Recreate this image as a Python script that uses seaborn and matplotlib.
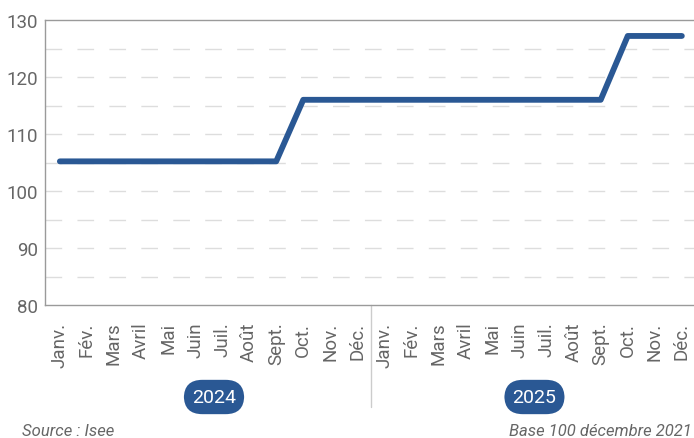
import matplotlib
matplotlib.use("Agg")
import matplotlib.pyplot as plt
import seaborn as sns
import pandas as pd
import numpy as np

months = ["Janv.", "Fév.", "Mars", "Avril", "Mai", "Juin", "Juil.", "Août",
          "Sept.", "Oct.", "Nov.", "Déc."]
years = ["2024", "2025"]
values = [105.2] * 9 + [116.0] * 12 + [127.2] * 3
tick_labels = months * 2

sns.set_theme(style="white")
plt.rcParams['font.family'] = ['Roboto', 'DejaVu Sans']

df = pd.DataFrame({"x": np.arange(len(values)), "value": values})

fig = plt.figure(figsize=(6.94, 4.39), dpi=100)
ax = fig.add_axes([45/694, 1 - 306/439, 1.0 - 45/694, (306 - 21)/439])

line_color = "#2A5894"
gray = "#666666"
spine_gray = "#9a9a9a"

for yv in range(85, 130, 5):
    ax.axhline(yv, color="#dddddd", lw=1.0, ls=(0, (12, 11)), zorder=0)

sns.lineplot(data=df, x="x", y="value", ax=ax, color=line_color, lw=4.2,
             solid_capstyle="round", solid_joinstyle="round")

ax.set_xlim(-0.55, 23.45)
ax.set_ylim(80, 130)
ax.set_yticks(range(80, 131, 10))
ax.set_yticklabels([str(v) for v in range(80, 131, 10)], color=gray, fontsize=13.5)
ax.set_xticks(range(len(tick_labels)))
ax.set_xticklabels(tick_labels, rotation=90, color=gray, fontsize=13.5)
ax.tick_params(axis="y", length=0, pad=5)
ax.tick_params(axis="x", length=0, pad=12)
ax.set_xlabel("")
ax.set_ylabel("")

for s in ["left", "bottom", "top"]:
    ax.spines[s].set_color(spine_gray)
    ax.spines[s].set_linewidth(1.0)
ax.spines["right"].set_visible(False)

# separator between years
ax.plot([11.5, 11.5], [80, 80 - 102/5.7], color="#cccccc", lw=1, clip_on=False)

for yr, xc in zip(years, [5.7, 17.55]):
    ax.text(xc, 80 - 92/5.7, yr, ha="center", va="center", color="white",
            fontsize=14,
            bbox=dict(boxstyle="round,pad=0.42,rounding_size=0.95",
                      fc=line_color, ec="none"))

fig.text(22/694, 1 - 432/439, "Source : Isee", fontsize=12, style="italic",
         color=gray, ha="left", va="center")
fig.text(0.997, 1 - 432/439, "Base 100 décembre 2021", fontsize=12,
         style="italic", color=gray, ha="right", va="center")

fig.savefig("out.png", dpi=100)
